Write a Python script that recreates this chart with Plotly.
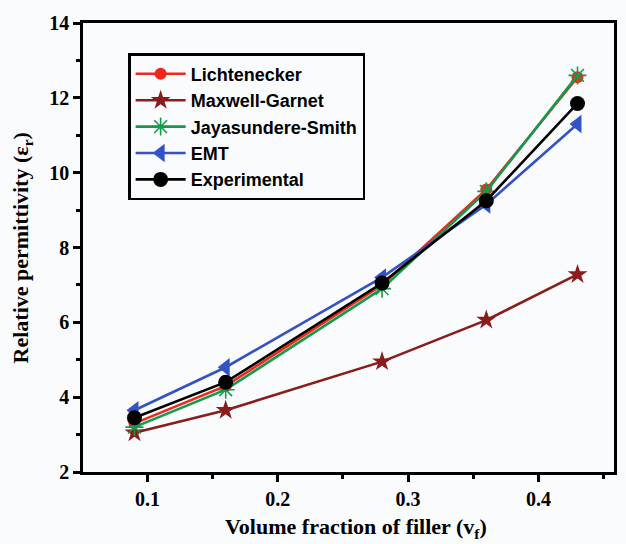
import plotly.graph_objects as go

# Filler volume fraction
vf = [0.09, 0.16, 0.28, 0.36, 0.43]

# Relative permittivity: models and measurement
lichtenecker = [3.30, 4.30, 7.00, 9.55, 12.55]
maxwell_garnet = [3.05, 3.65, 4.95, 6.06, 7.28]
jayasundere_smith = [3.20, 4.20, 6.90, 9.50, 12.60]
emt = [3.65, 4.80, 7.20, 9.15, 11.30]
experimental = [3.45, 4.40, 7.05, 9.25, 11.85]

series = [
    ("Lichtenecker", lichtenecker, "#f0281c", "circle", 12, None),
    ("Maxwell-Garnet", maxwell_garnet, "#8a1c1c", "star", 15, None),
    ("Jayasundere-Smith", jayasundere_smith, "#149a4c", "asterisk-open", 15, 1.6),
    ("EMT", emt, "#3352c4", "triangle-left", 16, None),
    ("Experimental", experimental, "#000000", "circle", 15, None),
]

fig = go.Figure()
for i, (name, ys, color, symbol, size, mlw) in enumerate(series):
    marker = dict(color=color, symbol=symbol, size=size)
    if mlw is not None:
        marker["line"] = dict(color=color, width=mlw)
    else:
        marker["line"] = dict(width=0)
    fig.add_trace(go.Scatter(
        x=vf, y=ys, name=f"<b>{name}</b>", mode="lines+markers",
        line=dict(color=color, width=2.6),
        marker=marker, legendgroup=f"g{i}",
    ))

axis_common = dict(
    showline=True, linecolor="black", linewidth=2.5, mirror=True,
    ticks="outside", ticklen=7, tickwidth=2.5, tickcolor="black",
    showgrid=False, zeroline=False, automargin=False,
    tickfont=dict(family="Liberation Serif", size=20, color="black"),
)

fig.update_xaxes(
    range=[0.0505, 0.458], tickvals=[0.1, 0.2, 0.3, 0.4],
    ticktext=["<b>0.1</b>", "<b>0.2</b>", "<b>0.3</b>", "<b>0.4</b>"],
    minor=dict(tickvals=[0.05, 0.15, 0.25, 0.35, 0.45], ticks="outside",
               ticklen=4, tickwidth=2.5, tickcolor="black"),
    **axis_common,
)
fig.update_yaxes(
    range=[2, 14], tickvals=[2, 4, 6, 8, 10, 12, 14],
    ticktext=[f"<b>{v}</b>" for v in [2, 4, 6, 8, 10, 12, 14]],
    minor=dict(tickvals=[3, 5, 7, 9, 11, 13], ticks="outside",
               ticklen=4, tickwidth=2.5, tickcolor="black"),
    **axis_common,
)

title_font = dict(family="Liberation Serif", size=22, color="black")
fig.add_annotation(
    text="<b>Volume fraction of filler (v<sub>f</sub>)</b>",
    xref="paper", yref="paper", x=0.515, y=-0.088,
    xanchor="center", yanchor="top", showarrow=False, font=title_font,
)
fig.add_annotation(
    text="<b>Relative permittivity (ε<sub>r</sub>)</b>",
    xref="paper", yref="paper", x=-0.115, y=0.5, textangle=-90,
    xanchor="center", yanchor="middle", showarrow=False, font=title_font,
)

fig.update_layout(
    width=626, height=544,
    margin=dict(l=83, r=12, t=23, b=72),
    paper_bgcolor="#fafbfd", plot_bgcolor="#fafbfd",
    legend=dict(
        x=0.085, y=0.933, xanchor="left", yanchor="top",
        bordercolor="black", borderwidth=2.5, bgcolor="#fafbfd",
        font=dict(family="Liberation Sans", size=18, color="black"),
        itemwidth=50, tracegroupgap=0, traceorder="grouped",
    ),
    showlegend=True,
)

fig.write_html("out.html")
